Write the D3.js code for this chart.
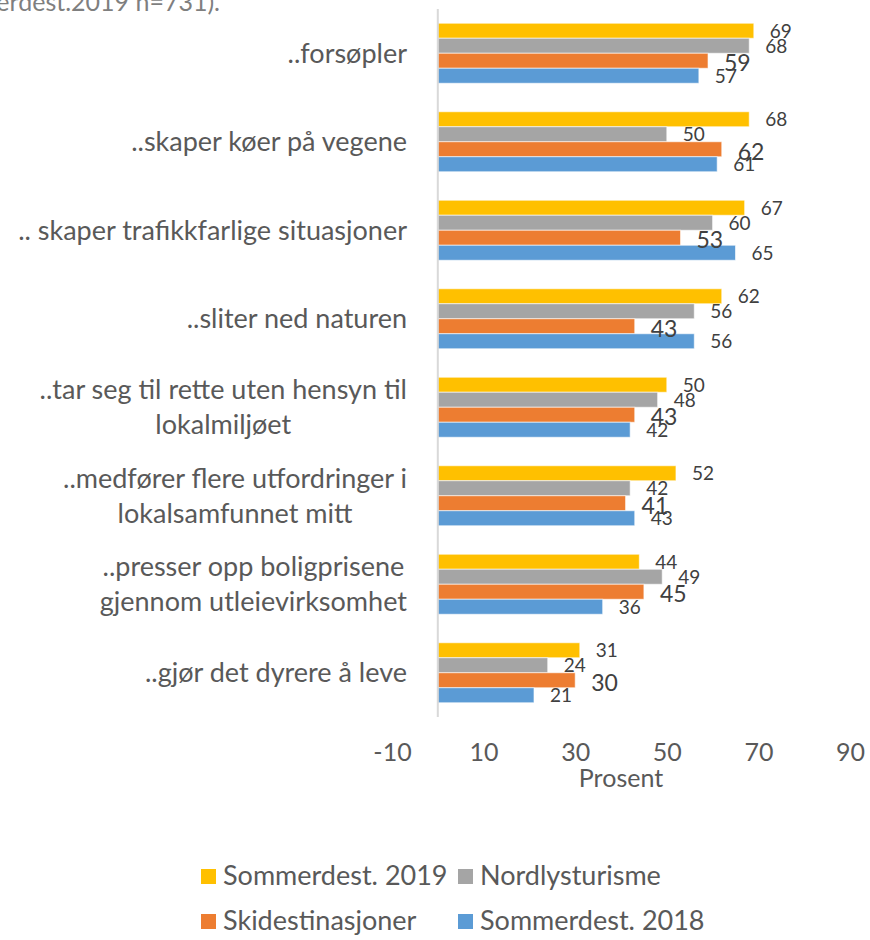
<!DOCTYPE html>
<html>
<head>
<meta charset="utf-8">
<script src="https://cdn.jsdelivr.net/npm/d3@7"></script>
<style>
  body { margin: 0; background: #fff; }
  svg { display: block; font-family: Lato, "Open Sans", sans-serif; }
</style>
</head>
<body>
<svg id="chart" width="870" height="940"></svg>
<script>

// category labels, already broken into lines the way the chart wraps them
var categories = [
  ['..forsøpler'],
  ['..skaper køer på vegene'],
  ['.. skaper trafikkfarlige situasjoner'],
  ['..sliter ned naturen'],
  ['..tar seg til rette uten hensyn til', 'lokalmiljøet'],
  ['..medfører flere utfordringer i', 'lokalsamfunnet mitt'],
  ['..presser opp boligprisene', 'gjennom utleievirksomhet'],
  ['..gjør det dyrere å leve']
];

var seriesNames = ['Sommerdest. 2019', 'Nordlysturisme', 'Skidestinasjoner', 'Sommerdest. 2018'];
var seriesColors = ['#FFC000', '#A5A5A5', '#ED7D31', '#5B9BD5'];

var sommer2019 = [69, 68, 67, 62, 50, 52, 44, 31];
var nordlys    = [68, 50, 60, 56, 48, 42, 49, 24];
var ski        = [59, 62, 53, 43, 43, 41, 45, 30];
var sommer2018 = [57, 61, 65, 56, 42, 43, 36, 21];

var xTicks = [-10, 10, 30, 50, 70, 90];

var series = [sommer2019, nordlys, ski, sommer2018];

var svg = d3.select('#chart');

var x = d3.scaleLinear().domain([-10, 90]).range([392, 850]);

var y = d3.scaleBand()
  .domain(d3.range(categories.length))
  .range([9, 717])
  .paddingInner(0.322)
  .paddingOuter(0.161);

var ySub = d3.scaleBand()
  .domain(d3.range(series.length))
  .range([0, y.bandwidth()]);

/* ======================================
 * Clipped caption left over at the top of the picture
 */
svg.append('text')
  .attr('x', 220)
  .attr('y', 11)
  .attr('text-anchor', 'end')
  .attr('fill', '#7f7f7f')
  .style('font-size', '25px')
  .text('Sommerdest.2019 n=731).');

/* ======================================
 * Bars, one group per category
 */
var groups = svg.append('g').selectAll('g')
  .data(categories)
  .join('g')
  .attr('transform', function(d, i) { return 'translate(0,' + y(i) + ')'; });

groups.selectAll('rect')
  .data(function(d, i) { return series.map(function(s, k) { return { k: k, v: s[i] }; }); })
  .join('rect')
  .attr('x', x(0))
  .attr('y', function(d) { return ySub(d.k); })
  .attr('width', function(d) { return x(d.v) - x(0); })
  .attr('height', ySub.bandwidth())
  .attr('fill', function(d) { return seriesColors[d.k]; })
  .attr('stroke', 'rgba(255,255,255,0.6)')
  .attr('stroke-width', 1);

// data labels: Skidestinasjoner is drawn bigger, as in the original
groups.selectAll('text.val')
  .data(function(d, i) { return series.map(function(s, k) { return { k: k, v: s[i] }; }); })
  .join('text')
  .attr('class', 'val')
  .attr('x', function(d) { return x(d.v) + 16; })
  .attr('y', function(d) { return ySub(d.k) + ySub.bandwidth() / 2 + (d.k === 2 ? 2 : 0); })
  .attr('dy', '0.36em')
  .attr('fill', '#404040')
  .style('font-size', function(d) { return d.k === 2 ? '23px' : '19px'; })
  .text(function(d) { return d.v; });

/* ======================================
 * Vertical axis line at zero
 */
svg.append('line')
  .attr('x1', x(0)).attr('x2', x(0))
  .attr('y1', y.range()[0]).attr('y2', y.range()[1])
  .attr('stroke', '#d9d9d9')
  .attr('stroke-width', 2);

/* ======================================
 * Category labels: centred lines, block right aligned to the axis
 */
var labelRight = 407, lineH = 35;

var labels = svg.append('g').selectAll('text')
  .data(categories)
  .join('text')
  .attr('fill', '#595959')
  .attr('text-anchor', 'middle')
  .style('font-size', '27px');

labels.each(function(lines, i) {
  var t = d3.select(this);
  var cy = y(i) + y.bandwidth() / 2;
  var top = cy - (lines.length - 1) * lineH / 2;
  lines.forEach(function(line, j) {
    t.append('tspan')
      .attr('y', top + j * lineH)
      .attr('dy', '0.35em')
      .text(line);
  });
  var w = 0;
  t.selectAll('tspan').each(function() { w = Math.max(w, this.getComputedTextLength()); });
  t.selectAll('tspan').attr('x', labelRight - w / 2);
});

/* ======================================
 * Value axis, labels only (plain hyphen for the minus sign)
 */
var xAxis = svg.append('g')
  .attr('transform', 'translate(0,' + y.range()[1] + ')')
  .call(d3.axisBottom(x)
    .tickValues(xTicks)
    .tickFormat(function(d) { return String(d); })
    .tickSize(0)
    .tickPadding(26));

xAxis.select('.domain').remove();
xAxis.selectAll('text')
  .attr('fill', '#595959')
  .style('font-size', '25px')
  .style('font-family', 'Lato, "Open Sans", sans-serif');

svg.append('text')
  .attr('x', (x.range()[0] + x.range()[1]) / 2)
  .attr('y', 778)
  .attr('dy', '0.35em')
  .attr('text-anchor', 'middle')
  .attr('fill', '#595959')
  .style('font-size', '25px')
  .text('Prosent');

/* ======================================
 * Legend, two rows of two
 */
var legendX = [201, 458], legendY = [876, 921];

var legend = svg.append('g').selectAll('g')
  .data(seriesNames)
  .join('g')
  .attr('transform', function(d, i) {
    return 'translate(' + legendX[i % 2] + ',' + legendY[Math.floor(i / 2)] + ')';
  });

legend.append('rect')
  .attr('x', 0).attr('y', -7)
  .attr('width', 15).attr('height', 15)
  .attr('fill', function(d, i) { return seriesColors[i]; });

legend.append('text')
  .attr('x', 22)
  .attr('dy', '0.35em')
  .attr('fill', '#595959')
  .style('font-size', '27px')
  .text(function(d) { return d; });

</script>
</body>
</html>
